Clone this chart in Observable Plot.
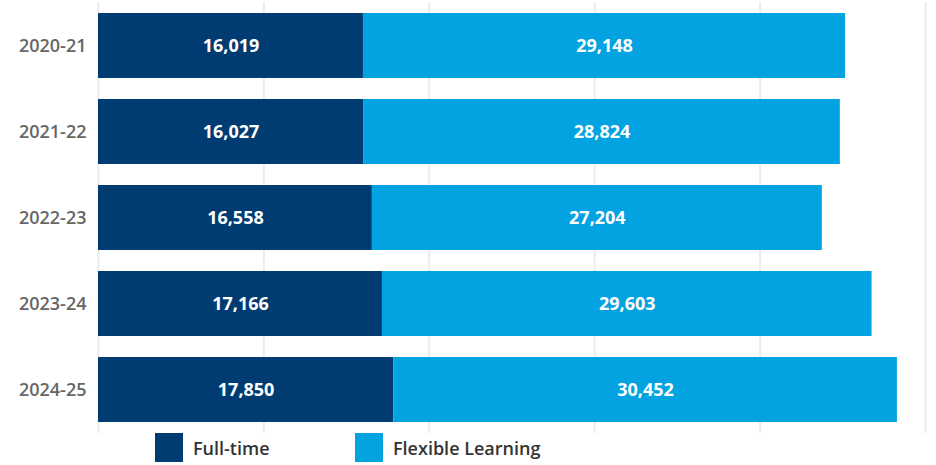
<!DOCTYPE html>
<html>
<head>
<meta charset="utf-8">
<script src="https://cdn.jsdelivr.net/npm/d3@7"></script>
<script src="https://cdn.jsdelivr.net/npm/@observablehq/plot@0.6"></script>
<style>
  body { margin: 0; background: #fff; font-family: "Open Sans", sans-serif; }
  #chart svg { display: block; }
  #legend { position: relative; height: 32px; width: 936px; }
  .item { position: absolute; top: 0; display: flex; align-items: center; height: 29px; }
  .swatch { width: 28px; height: 29px; margin-right: 10px; }
  .lbl { font-size: 18px; color: #333; font-weight: 600; }
</style>
</head>
<body>
<div id="chart"></div>
<div id="legend"></div>
<script>
const years = ["2020-21", "2021-22", "2022-23", "2023-24", "2024-25"];
const seriesNames = ["Full-time", "Flexible Learning"];
const fullTime = [16019, 16027, 16558, 17166, 17850];
const flexible = [29148, 28824, 27204, 29603, 30452];
const colors = ["#003B71", "#03A3E1"];
const gridTicks = [0, 10000, 20000, 30000, 40000, 50000];

const data = [];
years.forEach((y, i) => {
  data.push({year: y, type: seriesNames[0], value: fullTime[i]});
  data.push({year: y, type: seriesNames[1], value: flexible[i]});
});

const fmt = d3.format(",");

const chart = Plot.plot({
  width: 936,
  height: 433,
  marginTop: 2,
  marginBottom: 0,
  marginLeft: 98,
  marginRight: 11,
  style: {fontFamily: "'Open Sans', sans-serif", background: "#fff"},
  x: {domain: [0, 50000], axis: null},
  y: {domain: years, paddingInner: 0.24, paddingOuter: 0.11, label: null},
  color: {domain: seriesNames, range: colors},
  marks: [
    Plot.gridX(gridTicks, {stroke: "#ececec", strokeOpacity: 1, strokeWidth: 2}),
    Plot.barX(data, Plot.stackX({x: "value", y: "year", fill: "type", order: seriesNames})),
    Plot.text(data, Plot.stackX({x: "value", y: "year", z: "type", order: seriesNames,
      text: d => fmt(d.value), fill: "white", fontSize: 18, fontWeight: "bold"})),
    Plot.axisY({tickSize: 0, tickPadding: 12, fontSize: 18, fontWeight: 600, color: "#666", label: null})
  ]
});
document.getElementById("chart").append(chart);

const legend = document.getElementById("legend");
const lefts = [155, 355];
seriesNames.forEach((name, i) => {
  const item = document.createElement("div");
  item.className = "item";
  item.style.left = lefts[i] + "px";
  const sw = document.createElement("div");
  sw.className = "swatch";
  sw.style.background = colors[i];
  const t = document.createElement("span");
  t.className = "lbl";
  t.textContent = name;
  item.append(sw, t);
  legend.append(item);
});
</script>
</body>
</html>
